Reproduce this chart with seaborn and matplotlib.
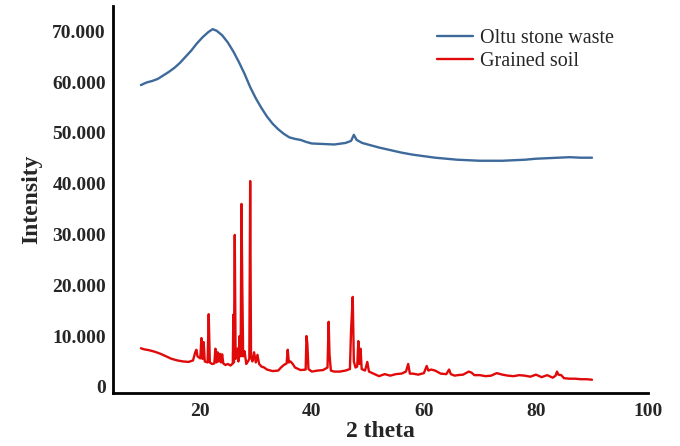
import numpy as np
import pandas as pd
import matplotlib
matplotlib.use("Agg")
import matplotlib.pyplot as plt
import seaborn as sns

# XRD patterns (intensity in thousands)
oltu_theta = [9.5, 10.5, 11.5, 12.5, 13.5, 14.5, 15.5, 16.5, 17.5, 18.5, 19.5, 20.5,
              21.5, 22.3, 23, 24, 25, 26, 27, 28, 29, 30, 31, 32, 33, 34, 35, 36, 37,
              38, 39, 40, 42, 44, 46, 47, 47.5, 48, 49, 50, 52, 54, 56, 58, 60, 62,
              64, 66, 68, 70, 72, 74, 76, 78, 80, 82, 84, 86, 88, 90]
oltu_int = [59.4, 59.9, 60.2, 60.6, 61.3, 62.0, 62.8, 63.8, 65.0, 66.2, 67.6, 68.8,
            69.8, 70.4, 70.1, 69.2, 67.8, 66.0, 63.9, 61.6, 59.0, 56.8, 54.9, 53.2,
            51.8, 50.7, 49.8, 49.1, 48.8, 48.6, 48.2, 47.9, 47.8, 47.7, 48.0, 48.4,
            49.6, 48.6, 48.0, 47.7, 47.1, 46.6, 46.1, 45.7, 45.4, 45.1, 44.9, 44.7,
            44.6, 44.5, 44.5, 44.5, 44.6, 44.7, 44.9, 45.0, 45.1, 45.2, 45.1, 45.1]

soil_theta = [9.5, 10, 11, 12, 13, 14, 15, 16, 17, 18, 18.8, 19.2, 19.4, 19.6, 20.1,
              20.3, 20.5, 20.7, 20.9, 21.4, 21.6, 21.8, 22.2, 22.6, 22.8, 23.0, 23.2,
              23.4, 23.6, 23.8, 24.0, 24.2, 24.6, 25.0, 25.5, 25.9, 26.0, 26.1, 26.25,
              26.4, 26.7, 26.9, 27.1, 27.3, 27.45, 27.6, 27.75, 28.0, 28.3, 28.6, 28.85,
              29.0, 29.15, 29.4, 29.7, 30.0, 30.3, 30.6, 31.0, 31.5, 32, 33, 34, 34.5,
              35, 35.5, 35.7, 35.9, 36.2, 36.6, 37, 38, 38.9, 39.05, 39.2, 39.4, 40,
              41, 42, 42.8, 43.0, 43.15, 43.4, 44, 45, 46, 46.8, 47.0, 47.3, 47.5, 47.8,
              48.1, 48.3, 48.5, 48.7, 48.9, 49.5, 49.9, 50.2, 51, 52, 53, 54, 55, 56,
              56.8, 57.2, 57.5, 58, 59, 60, 60.5, 60.8, 61.3, 62, 63, 64, 64.5, 64.8,
              65.5, 66, 67, 68, 68.5, 69, 70, 71, 72, 73, 74, 75, 76, 77, 78, 79, 80,
              81, 82, 83, 83.5, 83.75, 84, 84.5, 85, 86, 87, 88, 89, 90]
soil_int = [7.6, 7.4, 7.2, 6.9, 6.5, 6.0, 5.5, 5.2, 5.0, 4.9, 5.2, 6.8, 7.3, 6.0, 5.6,
            9.6, 5.5, 8.8, 5.0, 4.8, 14.3, 4.8, 4.5, 4.6, 7.5, 4.8, 6.8, 5.0, 6.5, 4.8,
            6.4, 4.6, 4.3, 4.5, 4.2, 4.6, 14.2, 4.8, 29.9, 5.5, 7.5, 5.0, 10.0, 6.0,
            36.0, 19.0, 6.0, 7.0, 4.5, 5.0, 5.5, 40.5, 6.0, 5.0, 6.8, 4.8, 6.3, 4.5,
            4.0, 3.8, 3.4, 3.1, 3.2, 3.8, 4.3, 4.6, 7.3, 4.8, 5.0, 4.5, 3.8, 3.3, 3.4,
            10.0, 8.5, 3.5, 3.0, 3.2, 3.3, 3.8, 12.8, 6.5, 3.2, 3.0, 3.0, 3.2, 3.5,
            11.0, 17.7, 5.0, 3.8, 4.0, 9.0, 4.5, 7.5, 3.5, 3.2, 4.9, 3.0, 2.6, 2.1,
            2.5, 2.2, 2.5, 2.6, 3.0, 4.5, 2.6, 2.6, 2.4, 2.7, 4.1, 3.2, 3.4, 3.2, 2.6,
            2.5, 3.4, 2.5, 2.2, 2.3, 2.4, 3.0, 2.8, 2.3, 2.3, 2.1, 2.2, 2.7, 2.4, 2.2,
            2.1, 2.3, 2.2, 2.0, 2.4, 1.9, 2.3, 1.8, 2.2, 3.0, 2.4, 2.3, 1.7, 1.6, 1.6,
            1.5, 1.5, 1.4]

samples = ["Oltu stone waste", "Grained soil"]
colors = ["#3d6a9b", "#e00a0a"]
x_ticks = [20, 40, 60, 80, 100]
y_ticks = [0, 10000, 20000, 30000, 40000, 50000, 60000, 70000]

df = pd.concat([
    pd.DataFrame({"theta": oltu_theta, "intensity": np.array(oltu_int) * 1000, "sample": samples[0]}),
    pd.DataFrame({"theta": soil_theta, "intensity": np.array(soil_int) * 1000, "sample": samples[1]}),
])

sns.set_style("white")
plt.rcParams["font.family"] = ["Liberation Serif", "DejaVu Serif"]

fig = plt.figure(figsize=(6.8, 4.46), dpi=100)
ax = fig.add_axes([0.166, 0.119, 0.787, 0.868])

sns.lineplot(data=df, x="theta", y="intensity", hue="sample", hue_order=samples,
             palette=colors, estimator=None, sort=False, linewidth=1.7, ax=ax)

ax.set_xlim(4.5, 100)
ax.set_ylim(-1200, 75000)
ax.set_xticks(x_ticks)
ax.set_yticks(y_ticks)
ax.set_yticklabels(["0" if v == 0 else f"{v / 1000:.3f}" for v in y_ticks])
ax.tick_params(length=0, labelsize=14)
ax.tick_params(axis="x", pad=7)
ax.tick_params(axis="y", pad=5)
for lab in ax.get_xticklabels() + ax.get_yticklabels():
    lab.set_fontweight("bold")

ax.set_xlabel("2 theta", fontsize=17, fontweight="bold", labelpad=1)
ax.set_ylabel("Intensity", fontsize=17, fontweight="bold", labelpad=7)

sns.despine(ax=ax)
for side in ["left", "bottom"]:
    ax.spines[side].set_color("black")
    ax.spines[side].set_linewidth(2)

sns.move_legend(ax, "upper left", bbox_to_anchor=(0.643, 0.935),
                bbox_transform=fig.transFigure, frameon=False, title=None,
                fontsize=14.5, handlelength=1.8, handletextpad=0.3,
                labelspacing=0.2, borderpad=0, borderaxespad=0)

fig.savefig("out.png", dpi=100)
